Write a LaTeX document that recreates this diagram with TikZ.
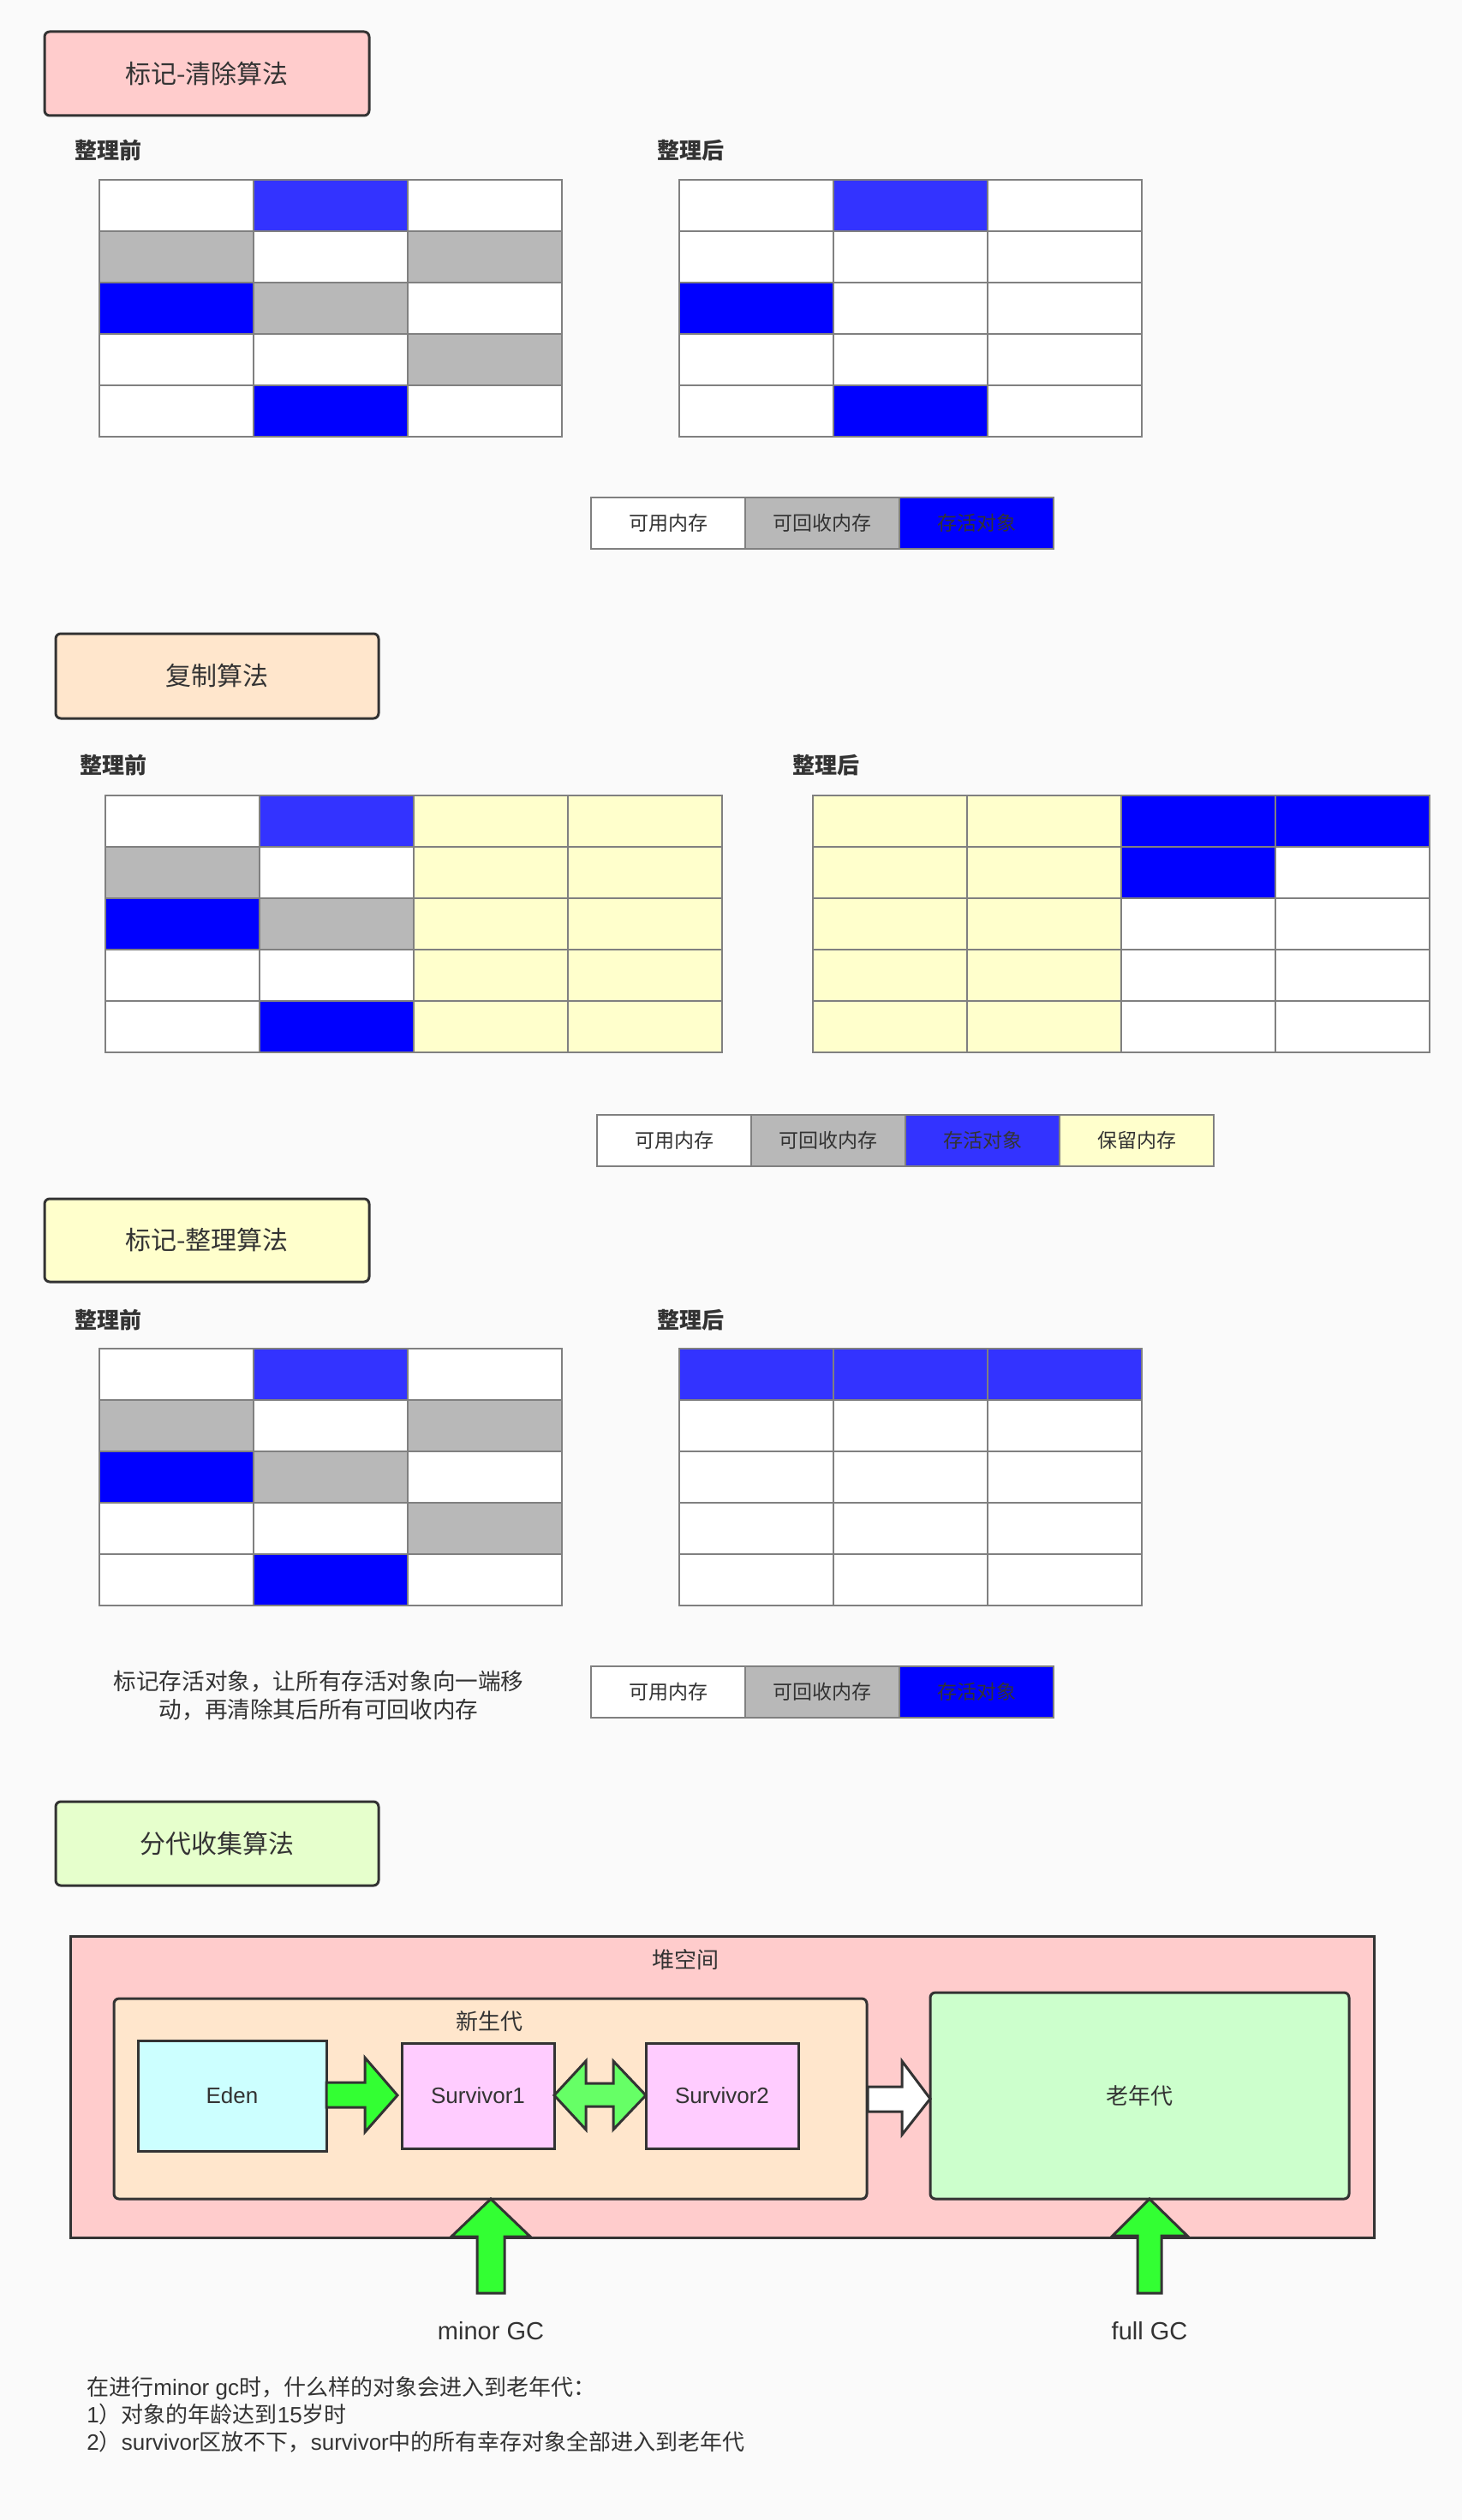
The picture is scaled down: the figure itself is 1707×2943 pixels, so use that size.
\documentclass[tikz,border=0pt]{standalone}
\usepackage{fontspec}
\setmainfont{Noto Sans CJK SC}
\newfontfamily\lat{Liberation Sans}
\definecolor{bg}{HTML}{FAFAFA}
\definecolor{ink}{HTML}{333333}
\definecolor{gridc}{HTML}{808080}
\definecolor{cw}{HTML}{FFFFFF}
\definecolor{cg}{HTML}{B8B8B8}
\definecolor{cb}{HTML}{0000FF}
\definecolor{cl}{HTML}{3333FF}
\definecolor{cy}{HTML}{FFFFCC}
\definecolor{tone}{HTML}{FFCCCC}
\definecolor{ttwo}{HTML}{FFE6CC}
\definecolor{tthree}{HTML}{FFFFCC}
\definecolor{tfour}{HTML}{E6FFCC}
\definecolor{edenc}{HTML}{CCFFFF}
\definecolor{survc}{HTML}{FFCCFF}
\definecolor{oldc}{HTML}{CCFFCC}
\definecolor{arrg}{HTML}{33FF33}
\definecolor{arrl}{HTML}{66FF66}
\newcommand\memgrid[4]{%
  \foreach \row [count=\r] in {#4} {
    \foreach \c [count=\k] in \row {
      \node[cell, fill=\c] (#1-\r-\k) at ({#2+(\k-0.5)*180},{#3+(\r-0.5)*60}) {};
    }
  }
}
\begin{document}
\begin{tikzpicture}[x=0.5pt,y=-0.5pt,
  titlebox/.style={draw=ink, line width=1.5pt, rounded corners=3pt, inner sep=0, text=ink,
    font=\fontsize{15pt}{18pt}\selectfont},
  lbl/.style={anchor=west, inner sep=0, text=ink, font=\fontsize{13pt}{15.6pt}\selectfont\bfseries},
  cell/.style={draw=gridc, line width=1pt, minimum width=90pt, minimum height=30pt, inner sep=0, outer sep=0},
  leg/.style={cell, text=ink, font=\fontsize{11.5pt}{14pt}\selectfont},
  box/.style={draw=ink, line width=1.5pt, inner sep=0, text=ink, font={\lat\fontsize{13pt}{15.6pt}\selectfont}},
  txt/.style={inner sep=0, text=ink, font=\fontsize{13pt}{15.6pt}\selectfont},
  ltxt/.style={inner sep=0, text=ink, font={\lat\fontsize{14.5pt}{17pt}\selectfont}},
  blockarrow/.style={draw=ink, line width=1.5pt, line join=miter}]
\fill[bg] (0,0) rectangle (1707,2943);
\useasboundingbox (0,0) rectangle (1707,2943);

% ---------- Section 1
\node[titlebox, fill=tone, minimum width=189.5pt, minimum height=49pt] (t1) at (241.5,86) {标记-清除算法};
\node[lbl] (b1) at (87,176) {整理前};
\node[lbl] (a1) at (767,176) {整理后};
\memgrid{ga}{116}{210}{{cw,cl,cw},{cg,cw,cg},{cb,cg,cw},{cw,cw,cg},{cw,cb,cw}}
\memgrid{gb}{793}{210}{{cw,cl,cw},{cw,cw,cw},{cb,cw,cw},{cw,cw,cw},{cw,cb,cw}}
\node[leg, fill=cw] (l1a) at (780,611) {可用内存};
\node[leg, fill=cg] (l1b) at (960,611) {可回收内存};
\node[leg, fill=cb] (l1c) at (1140,611) {存活对象};

% ---------- Section 2
\node[titlebox, fill=ttwo, minimum width=188.5pt, minimum height=49.5pt] (t2) at (253.5,789.5) {复制算法};
\node[lbl] (b2) at (93,894) {整理前};
\node[lbl] (a2) at (925,894) {整理后};
\memgrid{gc}{123}{929}{{cw,cl,cy,cy},{cg,cw,cy,cy},{cb,cg,cy,cy},{cw,cw,cy,cy},{cw,cb,cy,cy}}
\memgrid{gd}{949}{929}{{cy,cy,cb,cb},{cy,cy,cb,cw},{cy,cy,cw,cw},{cy,cy,cw,cw},{cy,cy,cw,cw}}
\node[leg, fill=cw] (l2a) at (787,1332) {可用内存};
\node[leg, fill=cg] (l2b) at (967,1332) {可回收内存};
\node[leg, fill=cl] (l2c) at (1147,1332) {存活对象};
\node[leg, fill=cy] (l2d) at (1327,1332) {保留内存};

% ---------- Section 3
\node[titlebox, fill=tthree, minimum width=189.5pt, minimum height=48.5pt] (t3) at (241.5,1448.5) {标记-整理算法};
\node[lbl] (b3) at (87,1542) {整理前};
\node[lbl] (a3) at (767,1542) {整理后};
\memgrid{ge}{116}{1575}{{cw,cl,cw},{cg,cw,cg},{cb,cg,cw},{cw,cw,cg},{cw,cb,cw}}
\memgrid{gf}{793}{1575}{{cl,cl,cl},{cw,cw,cw},{cw,cw,cw},{cw,cw,cw},{cw,cw,cw}}
\node[txt, align=center, font=\fontsize{13.3pt}{16.5pt}\selectfont] (n3) at (372,1980)
  {标记存活对象，让所有存活对象向一端移\\动，再清除其后所有可回收内存};
\node[leg, fill=cw] (l3a) at (780,1976) {可用内存};
\node[leg, fill=cg] (l3b) at (960,1976) {可回收内存};
\node[leg, fill=cb] (l3c) at (1140,1976) {存活对象};

% ---------- Section 4
\node[titlebox, fill=tfour, minimum width=188.5pt, minimum height=49pt] (t4) at (253.5,2153) {分代收集算法};
\node[box, fill=tone, minimum width=761pt, minimum height=176pt] (heap) at (843,2437) {};
\node[txt] (heapl) at (800,2289) {堆空间};
\node[box, fill=ttwo, rounded corners=3pt, minimum width=439.5pt, minimum height=117pt] (young) at (572.5,2451) {};
\node[txt] (youngl) at (571,2361) {新生代};
\node[box, fill=oldc, rounded corners=3pt, minimum width=244.5pt, minimum height=120.5pt,
  font=\fontsize{13pt}{15.6pt}\selectfont] (old) at (1330.5,2447.5) {老年代};
\node[box, fill=edenc, minimum width=110pt, minimum height=64.5pt] (eden) at (271,2447.5) {Eden};
\node[box, fill=survc, minimum width=89pt, minimum height=61.5pt] (s1) at (558,2447.5) {Survivor1};
\node[box, fill=survc, minimum width=89pt, minimum height=61.5pt] (s2) at (843,2447.5) {Survivor2};

% block arrows
\draw[blockarrow, fill=arrg] (381,2432) -- (426,2432) -- (426,2403) -- (464,2447) -- (426,2490) -- (426,2461) -- (381,2461) -- cycle;
\draw[blockarrow, fill=arrl] (647,2447) -- (684,2407) -- (684,2433) -- (716,2433) -- (716,2407) -- (754,2447)
  -- (716,2487) -- (716,2460) -- (684,2460) -- (684,2487) -- cycle;
\draw[blockarrow, fill=white] (1013,2437) -- (1053,2437) -- (1053,2407) -- (1086,2451) -- (1053,2493) -- (1053,2466) -- (1013,2466) -- cycle;
\draw[blockarrow, fill=arrg] (573,2568) -- (619,2612) -- (589,2612) -- (589,2678) -- (557,2678) -- (557,2612) -- (527,2612) -- cycle;
\draw[blockarrow, fill=arrg] (1342,2568) -- (1386,2611) -- (1356,2611) -- (1356,2678) -- (1328,2678) -- (1328,2611) -- (1299,2611) -- cycle;

\node[ltxt] (minor) at (573,2722) {minor GC};
\node[ltxt] (full) at (1342,2722) {full GC};

\node[txt, anchor=west, align=left, font=\fontsize{13pt}{16pt}\selectfont] (note) at (101,2820)
  {在进行{\lat minor gc}时，什么样的对象会进入到老年代：\\
   {\lat 1}）对象的年龄达到{\lat 15}岁时\\
   {\lat 2}）{\lat survivor}区放不下，{\lat survivor}中的所有幸存对象全部进入到老年代};
\end{tikzpicture}
\end{document}
